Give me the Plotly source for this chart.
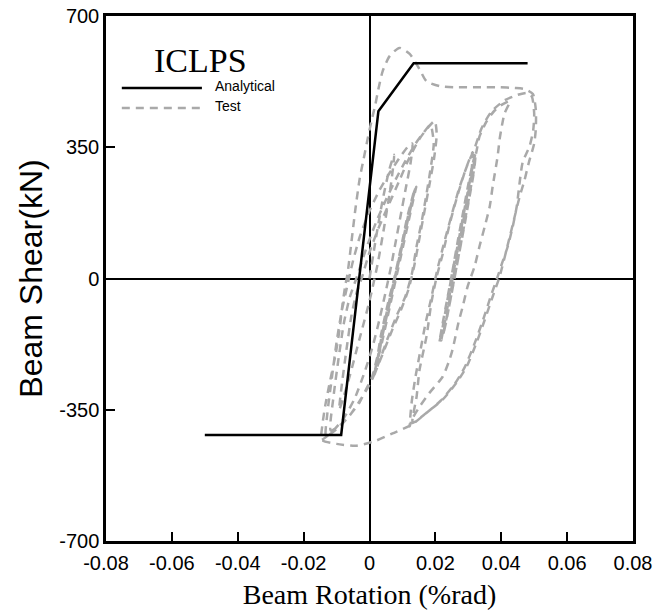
import plotly.graph_objects as go

# Analytical backbone (rotation, shear)
analytical_rot = [-0.05, -0.0086, 0.0027, 0.0134, 0.048]
analytical_shear = [-417, -417, 446, 574, 574]

# Test hysteresis
cycle1_rot = [0.0, 0.002, 0.004, 0.006, 0.0075, 0.0065, 0.0045, 0.0025, 0.0, -0.003, -0.006, -0.008, -0.0092,
              -0.0085, -0.007, -0.0055, -0.004, -0.0024, 0.0, 0.003, 0.006, 0.009, 0.012, 0.015, 0.0175, 0.0198,
              0.0204, 0.0196, 0.0183, 0.0166, 0.015, 0.0135, 0.0118, 0.0095, 0.007, 0.0045, 0.002, 0.0009]
cycle1_shear = [0, 110, 210, 290, 330, 250, 140, 40, -60, -160, -260, -320, -350,
                -290, -190, -100, -40, 0, 70, 140, 200, 260, 320, 370, 400, 420,
                385, 320, 255, 175, 100, 30, -30, -85, -135, -190, -245, -270]

clusterB_rot = [0.002, 0.0035, 0.0055, 0.0075, 0.0095, 0.0115, 0.0137, 0.0128, 0.011, 0.009, 0.007, 0.005, 0.003,
                0.0015, 0.0028, 0.0045, 0.0065, 0.0085, 0.0105, 0.0122, 0.0142, 0.0133, 0.0118, 0.0098, 0.0078,
                0.0058, 0.0038, 0.0018, 0.0024, 0.004, 0.006, 0.008, 0.01, 0.0118, 0.0139, 0.0125, 0.0106,
                0.0086, 0.0066, 0.0046, 0.0026, 0.0008, -0.001, -0.003, -0.0065, -0.0095, -0.0118]
clusterB_shear = [-230, -150, -70, 0, 80, 165, 238, 200, 130, 50, -30, -110, -190,
                  -255, -205, -125, -45, 30, 110, 185, 245, 210, 150, 70, -10,
                  -90, -170, -240, -215, -140, -60, 15, 95, 170, 240, 195, 120,
                  40, -40, -120, -200, -262, -295, -330, -370, -395, -405]

cycle2_rot = [-0.011, -0.0095, -0.0078, -0.006, -0.004, -0.001, 0.002, 0.005, 0.008, 0.011, 0.014, 0.0165, 0.0185,
              0.0195, 0.0185, 0.0172, 0.0158, 0.0143, 0.0128, 0.0108, 0.0082, 0.0055, 0.003, 0.0005, -0.0025,
              -0.006, -0.0095, -0.0132]
cycle2_shear = [-320, -220, -120, -50, 0, 80, 150, 210, 265, 315, 360, 390, 410,
                360, 290, 220, 150, 86, 10, -50, -100, -160, -220, -275, -320,
                -365, -398, -420]

cycle3_rot = [-0.0128, -0.0115, -0.01, -0.0085, -0.007, -0.0052, -0.003, 0.0, 0.003, 0.006, 0.009, 0.0115, 0.013,
              0.0125, 0.011, 0.0095, 0.008, 0.0065, 0.0048, 0.003, 0.001, -0.0015, -0.0045, -0.008, -0.0115, -0.0146]
cycle3_shear = [-360, -270, -170, -90, -30, 40, 110, 180, 235, 280, 320, 350, 360,
                310, 240, 170, 100, 30, -40, -110, -180, -250, -320, -375, -410, -430]

outer_rot = [-0.0143, -0.0134, -0.0119, -0.0103, -0.0091, -0.0082, -0.0073, -0.0067, -0.0055, -0.0043, -0.003,
             -0.0018, -0.0006, 0.0006, 0.0018, 0.0027, 0.004, 0.0061, 0.0091, 0.0122, 0.0152, 0.0173, 0.0213,
             0.026, 0.0304, 0.035, 0.0395, 0.044, 0.0471, 0.0496, 0.0505, 0.0505, 0.05, 0.0484, 0.047, 0.0456,
             0.0426, 0.0395, 0.0374, 0.035, 0.0325, 0.0295, 0.0264, 0.0222, 0.0173, 0.0131]
outer_shear = [-390, -337, -270, -203, -136, -69, -16, 11, 96, 184, 265,
               318, 371, 420, 465, 505, 553, 593, 615, 599, 558, 526, 513,
               510, 510, 510, 510, 508, 505, 492, 450, 400, 360, 310, 260, 219,
               112, 5, -48, -110, -171, -235, -278, -323, -358, -385]

clusterC_rot = [0.0143, 0.0152, 0.0173, 0.0188, 0.0204, 0.0222, 0.0243, 0.0268, 0.0292, 0.0313,
                0.031, 0.0298, 0.0283, 0.0268, 0.0252, 0.0237, 0.0222, 0.0212,
                0.0222, 0.0236, 0.0252, 0.0268, 0.0285, 0.0302, 0.032,
                0.0316, 0.0303, 0.029, 0.0275, 0.026, 0.0245, 0.0228, 0.0218,
                0.023, 0.0244, 0.026, 0.0276, 0.0292, 0.0308, 0.0322,
                0.0319, 0.0306, 0.0293, 0.0279, 0.0264, 0.0249, 0.0234, 0.0224,
                0.0236, 0.025, 0.0266, 0.0282, 0.0298, 0.0313, 0.0325]
clusterC_shear = [-315, -243, -155, -64, 5, 64, 144, 224, 291, 337,
                  290, 230, 160, 90, 20, -50, -120, -170,
                  -130, -60, 20, 100, 180, 260, 330,
                  280, 215, 150, 80, 10, -60, -130, -165,
                  -110, -40, 40, 120, 200, 275, 335,
                  300, 235, 170, 100, 30, -40, -110, -150,
                  -95, -20, 60, 140, 220, 290, 340]

loopC1_rot = [0.0334, 0.0356, 0.038, 0.0405, 0.0426, 0.041, 0.0404, 0.0395, 0.0389, 0.0374, 0.0365, 0.035, 0.0334,
              0.0319, 0.0298, 0.0283, 0.027, 0.0252, 0.024, 0.0222, 0.0182, 0.0152, 0.0128, 0.0122]
loopC1_shear = [379, 420, 448, 465, 473, 440, 417, 371, 326, 246, 192, 139, 86,
                32, -21, -75, -118, -190, -224, -262, -305, -342, -377, -395]

loopC2_rot = [0.0128, 0.014, 0.0155, 0.017, 0.0188, 0.0205, 0.0225, 0.0248, 0.0272, 0.0296, 0.0318, 0.034, 0.037,
              0.041, 0.045, 0.048, 0.0493, 0.05, 0.0497, 0.0486, 0.0465, 0.0455, 0.0447, 0.0435, 0.042, 0.0404,
              0.0389, 0.0368, 0.0345, 0.032, 0.029, 0.0258, 0.0216, 0.0168, 0.0128, 0.007, 0.0021, -0.004, -0.01,
              -0.0143, -0.015]
loopC2_shear = [-330, -260, -190, -120, -50, 20, 90, 165, 240, 300, 345, 400, 445,
                475, 490, 495, 485, 440, 395, 353, 310, 250, 192, 139, 86, 45,
                5, -48, -110, -171, -235, -282, -326, -362, -390, -413, -432, -446, -441,
                -432, -415]

test_rot = cycle1_rot + clusterB_rot + cycle2_rot + cycle3_rot + outer_rot + clusterC_rot + loopC1_rot + loopC2_rot
test_shear = (cycle1_shear + clusterB_shear + cycle2_shear + cycle3_shear + outer_shear + clusterC_shear
              + loopC1_shear + loopC2_shear)

x_ticks = [-0.08, -0.06, -0.04, -0.02, 0, 0.02, 0.04, 0.06, 0.08]
x_ticktext = ["-0.08", "-0.06", "-0.04", "-0.02", "0", "0.02", "0.04", "0.06", "0.08"]
y_ticks = [-700, -350, 0, 350, 700]
y_ticktext = ["-700", "-350", "0", "350", "700"]

GRAY = "#a9a9a9"
DASH = "8px,6px"
SANS = "Arial, Liberation Sans, sans-serif"
SERIF = "Times New Roman, Liberation Serif, serif"

fig = go.Figure()
fig.add_trace(go.Scatter(
    x=test_rot, y=test_shear, name="Test", mode="lines",
    line=dict(color=GRAY, width=2.5, dash=DASH, shape="spline", smoothing=0.6),
))
fig.add_trace(go.Scatter(
    x=analytical_rot, y=analytical_shear, name="Analytical", mode="lines",
    line=dict(color="black", width=2.5),
))

# legend drawn by hand so the sample lines are as long as in the original
fig.add_shape(type="line", xref="paper", yref="paper", x0=0.03, x1=0.182, y0=0.863, y1=0.863,
              line=dict(color="black", width=2.5))
fig.add_shape(type="line", xref="paper", yref="paper", x0=0.03, x1=0.182, y0=0.825, y1=0.825,
              line=dict(color=GRAY, width=2.5, dash=DASH))
fig.add_annotation(text="ICLPS", xref="paper", yref="paper", x=0.087, y=0.916, xanchor="left", yanchor="middle",
                   showarrow=False, font=dict(family=SERIF, size=34, color="black"))
fig.add_annotation(text="Analytical", xref="paper", yref="paper", x=0.203, y=0.866, xanchor="left",
                   yanchor="middle", showarrow=False, font=dict(family=SANS, size=14, color="black"))
fig.add_annotation(text="Test", xref="paper", yref="paper", x=0.203, y=0.828, xanchor="left",
                   yanchor="middle", showarrow=False, font=dict(family=SANS, size=14, color="black"))

axis_common = dict(
    showgrid=False, showline=True, linecolor="black", linewidth=2.5, mirror=True,
    ticks="inside", ticklen=9, tickwidth=2, tickcolor="black",
    zeroline=True, zerolinecolor="black", zerolinewidth=2,
    automargin=False, ticklabeloverflow="allow",
    tickfont=dict(family=SANS, size=20, color="black"),
)

fig.update_layout(
    width=665, height=610,
    margin=dict(l=106, r=32, t=16, b=69),
    paper_bgcolor="white", plot_bgcolor="white",
    showlegend=False,
    xaxis=dict(axis_common, range=[-0.08, 0.08], tickvals=x_ticks, ticktext=x_ticktext,
               ticklabelstandoff=2,
               title=dict(text="Beam Rotation (%rad)", standoff=12,
                          font=dict(family=SERIF, size=28, color="black"))),
    yaxis=dict(axis_common, range=[-700, 700], tickvals=y_ticks, ticktext=y_ticktext,
               title=dict(text="Beam Shear(kN)", standoff=8,
                          font=dict(family=SANS, size=32, color="black"))),
)

# drop the default body margin so the figure sits flush in the window
fig.write_html("out.html", config={"displayModeBar": False},
               post_script="document.body.style.margin = '0px';")
